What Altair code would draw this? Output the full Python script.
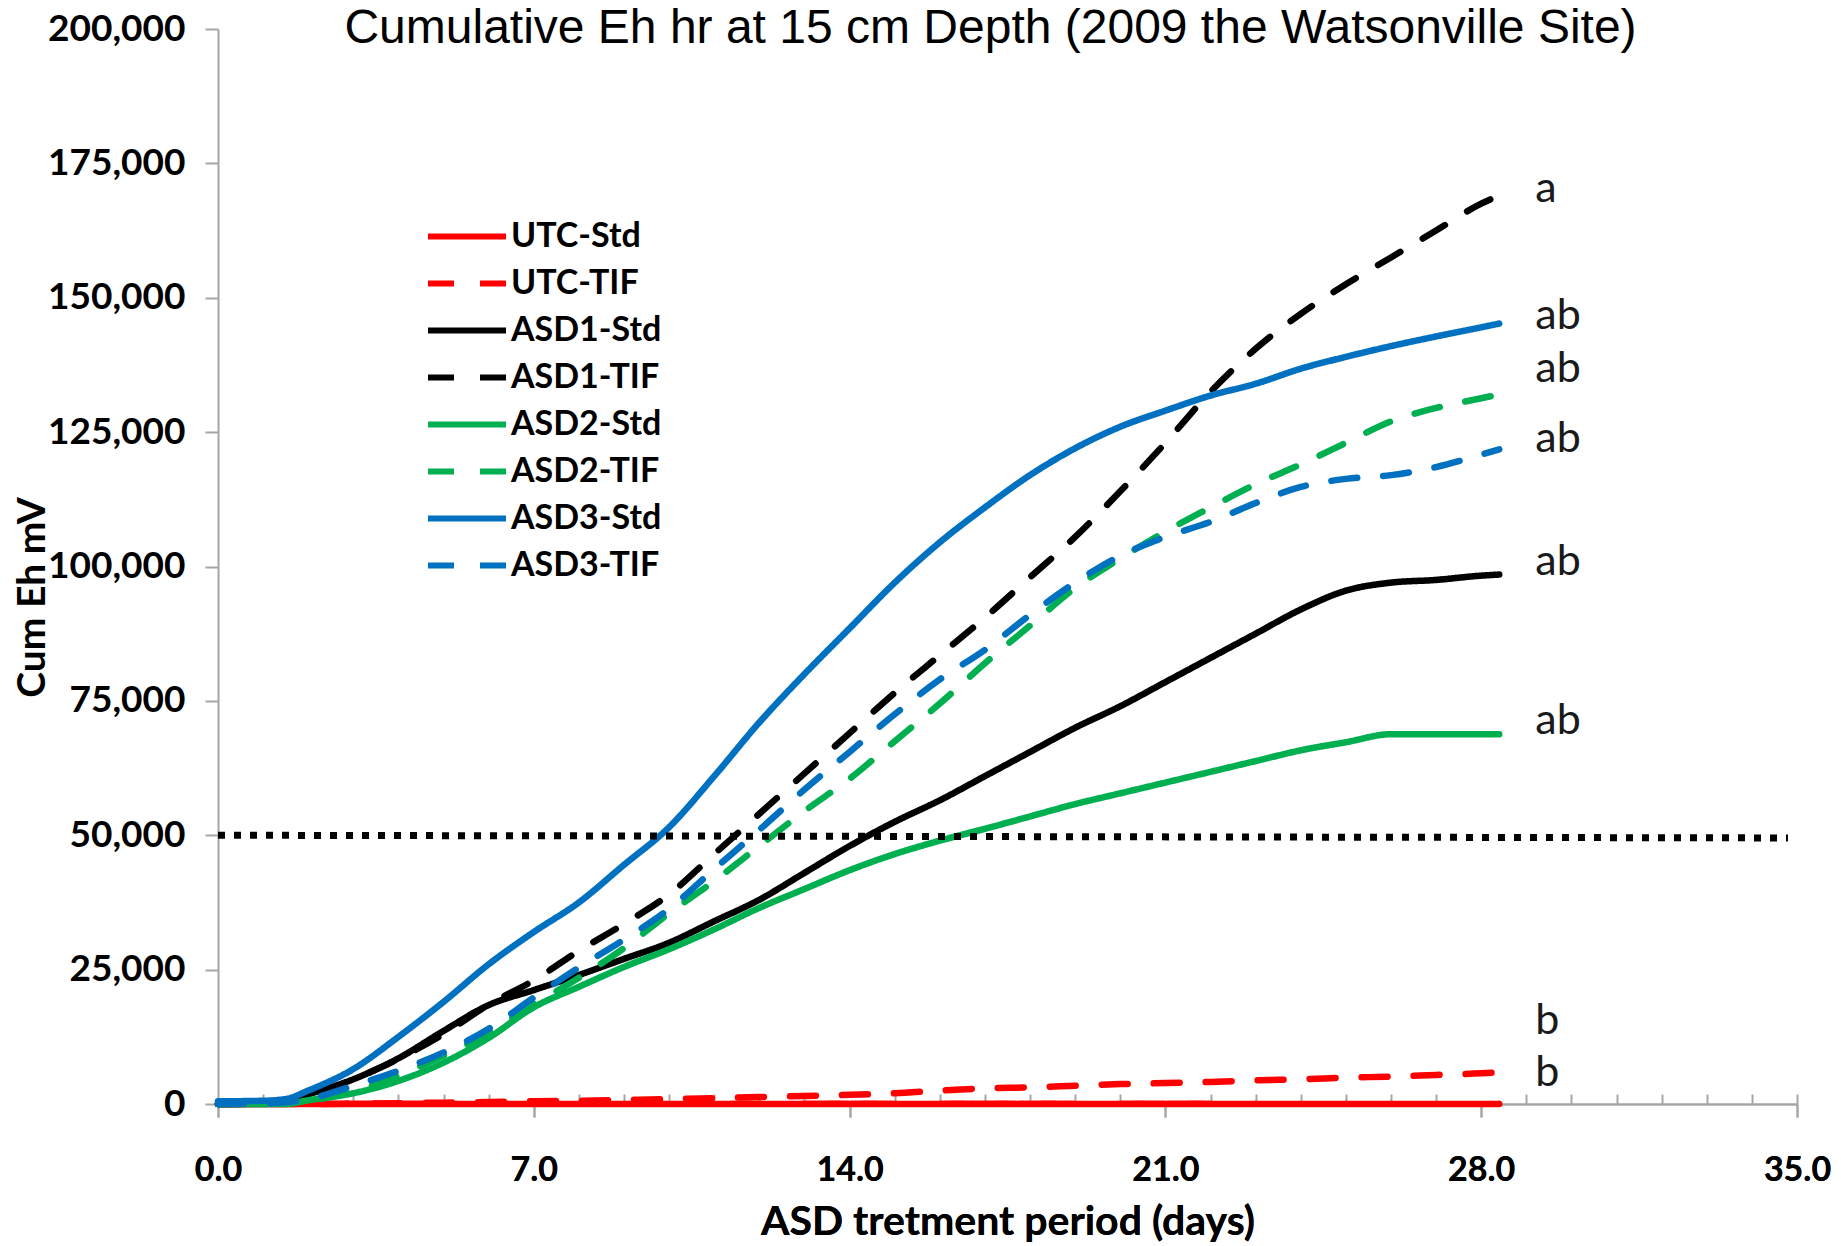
import altair as alt
import pandas as pd

# ---------------- data ----------------
SERIES = ["UTC-Std", "UTC-TIF", "ASD1-Std", "ASD1-TIF",
          "ASD2-Std", "ASD2-TIF", "ASD3-Std", "ASD3-TIF"]

DAYS = [0, 1, 1.5, 2, 3, 4, 5, 6, 7, 8, 9, 10, 11, 12, 13, 14, 15, 16,
        17, 18, 19, 20, 21, 22, 23, 24, 25, 26, 27, 28, 28.4]

UTC_STD = [0, 0, 0, 0, 0, 0, 0, 0, 0, 0, 0, 0, 0, 0, 0, 0, 0, 0, 0, 0,
           0, 0, 0, 0, 0, 0, 0, 0, 0, 0, 0]
UTC_TIF = [0, 0, 0, 0, 50, 150, 250, 350, 500, 600, 750, 900, 1100, 1300,
           1500, 1700, 2000, 2500, 2900, 3100, 3400, 3700, 3900, 4100, 4400,
           4600, 4900, 5100, 5400, 5700, 5900]
ASD1_STD = [0, 0, 500, 1800, 4600, 8500, 13600, 18400, 21200, 24000, 27000,
            30000, 34000, 38000, 43000, 48000, 52500, 56500, 61000, 65500,
            70000, 74000, 78500, 83000, 87500, 92000, 95500, 97000, 97500,
            98300, 98500]
ASD1_TIF = [0, 100, 500, 1500, 4600, 8400, 13000, 18500, 23000, 28500, 33500,
            39000, 46500, 54000, 61500, 69000, 76500, 83500, 90500, 98000,
            105500, 114000, 123000, 132500, 140500, 147000, 152500, 157500,
            162500, 167500, 169000]
ASD2_STD = [0, 0, 0, 700, 2000, 4300, 7700, 12300, 18000, 21800, 25500, 28800,
            32500, 36500, 40000, 43500, 46500, 49000, 51200, 53500, 55800,
            57800, 59800, 61800, 63800, 65800, 67300, 68800, 68800, 68800,
            68800]
ASD2_TIF = [0, 50, 200, 600, 2300, 5300, 9000, 13200, 18500, 23500, 29000,
            35500, 41500, 48000, 54500, 60500, 67500, 74500, 82000, 89000,
            96000, 101500, 106500, 111000, 115300, 119000, 123000, 127000,
            129500, 131300, 132000]
ASD3_STD = [500, 600, 900, 2500, 6500, 12500, 19000, 26000, 32000, 37500,
            44500, 51500, 61000, 71000, 80000, 88500, 97000, 104500, 111000,
            117000, 122000, 126000, 129000, 131800, 134000, 136800, 139000,
            141000, 142800, 144500, 145200]
ASD3_TIF = [0, 100, 300, 900, 3400, 6200, 9600, 14000, 19800, 25400, 30600,
            36300, 43700, 51000, 58500, 65500, 72500, 79000, 84500, 91000,
            97000, 102000, 105500, 108300, 111800, 114800, 116300, 117000,
            118500, 120800, 121800]

VALUES = [UTC_STD, UTC_TIF, ASD1_STD, ASD1_TIF, ASD2_STD, ASD2_TIF,
          ASD3_STD, ASD3_TIF]

# threshold (dotted line)
THRESH_DAYS = [0, 34.8]
THRESH_VALS = [50000, 49500]

# significance letters
LETTERS = ["a", "ab", "ab", "ab", "ab", "ab", "b", "b"]
LETTER_DAY = [29.2, 29.2, 29.2, 29.2, 29.2, 29.2, 29.2, 29.2]
LETTER_VAL = [167800, 144250, 134400, 121300, 98350, 68860, 13000, 3300]

# axis ticks
X_MAJOR = [0, 7, 14, 21, 28, 35]
X_MINOR = [1, 2, 3, 4, 5, 6, 8, 9, 10, 11, 12, 13, 15, 16, 17, 18, 19, 20,
           22, 23, 24, 25, 26, 27, 29, 30, 31, 32, 33, 34, 35]
Y_TICKS = [0, 25000, 50000, 75000, 100000, 125000, 150000, 175000, 200000]

# ---------------- styles ----------------
COLORS = ["#ff0000", "#ff0000", "#000000", "#000000",
          "#00b050", "#00b050", "#0070c0", "#0070c0"]
DASHES = [[1, 0], [26, 26], [1, 0], [26, 26],
          [1, 0], [26, 26], [1, 0], [26, 26]]
AXIS_GRAY = "#a6a6a6"
LABEL_FONT = "Lato"

rows = []
for s_i, (name, vals) in enumerate(zip(SERIES, VALUES)):
    for d, v in zip(DAYS, vals):
        rows.append({"series": name, "day": d, "value": v, "ord": s_i})
df = pd.DataFrame(rows)

thr_df = pd.DataFrame({"day": THRESH_DAYS, "value": THRESH_VALS})
lab_df = pd.DataFrame({"day": LETTER_DAY, "value": LETTER_VAL, "label": LETTERS})

x_scale = alt.Scale(domain=[0, 35], nice=False, zero=False)
y_scale = alt.Scale(domain=[0, 200000], nice=False, zero=False)

y_axis = alt.Axis(values=Y_TICKS, format=",d", title="Cum Eh mV",
                  tickSize=13, tickWidth=2, tickColor=AXIS_GRAY,
                  domainColor=AXIS_GRAY, domainWidth=2,
                  labelFont=LABEL_FONT, labelFontSize=37,
                  labelFontWeight="bold", labelColor="black",
                  labelPadding=20, labelFlush=False, labelOverlap=False,
                  titleFont=LABEL_FONT, titleFontSize=39,
                  titleFontWeight="bold", titleColor="black",
                  titleAngle=270, titleX=-186, titleY=568,
                  titleBaseline="middle", titleAlign="center",
                  grid=False, orient="left")

x_major_axis = alt.Axis(values=X_MAJOR, format=".1f",
                        title="ASD tretment period (days)", orient="bottom",
                        tickSize=13, tickWidth=2, tickColor=AXIS_GRAY,
                        domainColor=AXIS_GRAY, domainWidth=2,
                        labelFont=LABEL_FONT, labelFontSize=34,
                        labelFontWeight="bold", labelColor="black",
                        labelPadding=36, labelFlush=False, labelOverlap=False,
                        titleFont=LABEL_FONT, titleFontSize=41,
                        titleFontWeight="bold", titleColor="black",
                        titleBaseline="middle", titleY=118,
                        grid=False)

x_minor_axis = alt.Axis(values=X_MINOR, labels=False, domain=False,
                        tickSize=10, tickWidth=2, tickColor=AXIS_GRAY,
                        offset=-10, orient="bottom", title=None, grid=False)

legend = alt.Legend(title=None, orient="none", legendX=207, legendY=184)

lines = alt.Chart(df).mark_line(
    strokeWidth=6.5, interpolate="monotone", strokeCap="round", strokeJoin="round"
).encode(
    x=alt.X("day:Q", scale=x_scale, axis=x_major_axis),
    y=alt.Y("value:Q", scale=y_scale, axis=y_axis),
    color=alt.Color("series:N", scale=alt.Scale(domain=SERIES, range=COLORS),
                    legend=legend),
    strokeDash=alt.StrokeDash("series:N",
                              scale=alt.Scale(domain=SERIES, range=DASHES),
                              legend=legend),
    order=alt.Order("ord:Q"),
)

thr = alt.Chart(thr_df).mark_line(
    color="black", strokeWidth=7, strokeDash=[7, 9], strokeCap="butt"
).encode(
    x=alt.X("day:Q", scale=x_scale, axis=x_minor_axis),
    y=alt.Y("value:Q", scale=y_scale, axis=y_axis),
)

txt = alt.Chart(lab_df).mark_text(
    align="left", baseline="alphabetic", font="Lato", fontSize=43,
    color="#1a1a1a"
).encode(
    x=alt.X("day:Q", scale=x_scale, axis=x_major_axis),
    y=alt.Y("value:Q", scale=y_scale, axis=y_axis),
    text="label:N",
)

chart = alt.layer(lines, thr, txt).resolve_axis(x="independent").properties(
    width=1579, height=1075,
    padding={"left": 218, "top": 29, "right": 44, "bottom": 142},
    autosize=alt.AutoSizeParams(type="none"),
    title=alt.TitleParams(
        text="Cumulative Eh hr at 15 cm Depth (2009 the Watsonville Site)",
        font="Liberation Sans", fontSize=48, fontWeight="normal",
        color="black", anchor="middle", dx=-17, dy=47),
).configure_view(stroke=None).configure_legend(
    symbolType="stroke", symbolSize=6084, symbolStrokeWidth=6,
    clipHeight=47, rowPadding=0, padding=0, labelFont=LABEL_FONT,
    labelFontSize=34, labelFontWeight="bold", labelColor="black",
    labelOffset=2, symbolOffset=0, labelLimit=0,
)

chart.save("out.html", embed_options={"renderer": "svg", "actions": False})
